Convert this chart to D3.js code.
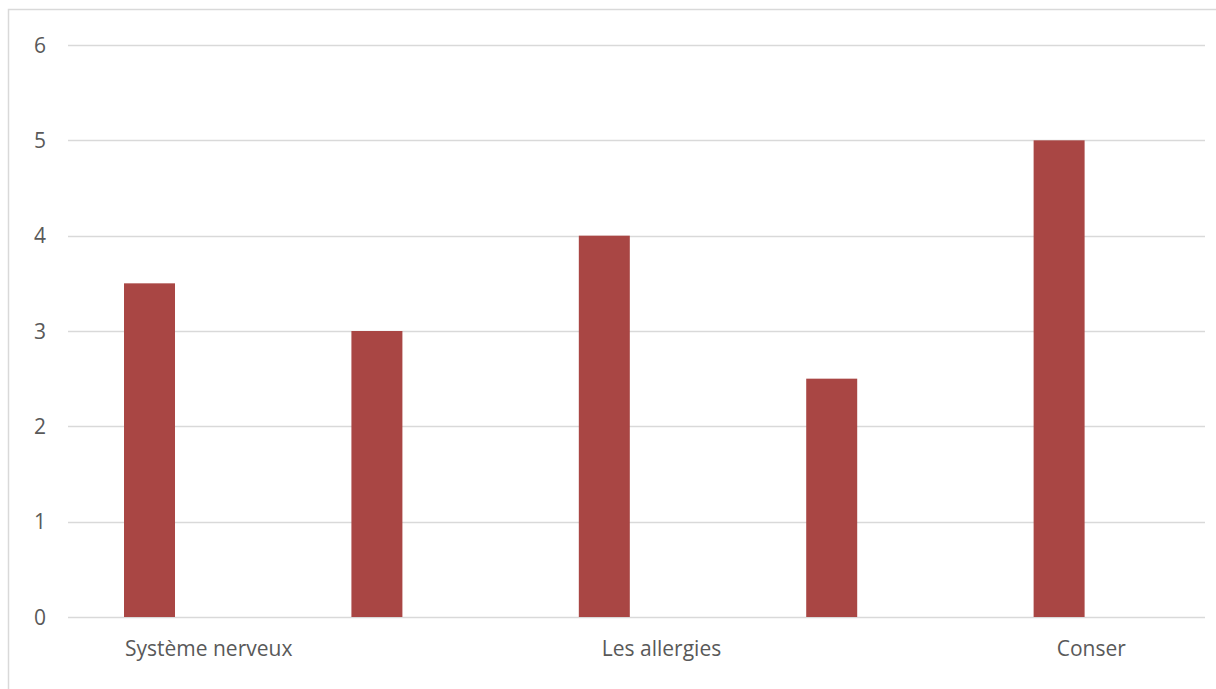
<!DOCTYPE html>
<html>
<head>
<meta charset="utf-8">
<script src="https://cdn.jsdelivr.net/npm/d3@7"></script>
<style>
  body { margin: 0; background: #fff; }
  text { font-family: "Open Sans", sans-serif; fill: #595959; }
</style>
</head>
<body>
<div id="chart"></div>
<script>
// chart data
var categories = ["Système nerveux", "", "Les allergies", "", "Conser"];
var values = [3.5, 3, 4, 2.5, 5];
var yTicks = [0, 1, 2, 3, 4, 5, 6];
// a second (empty) series takes the right half of each category slot
var seriesNames = ["Série 1", "Série 2"];

var svgWidth = 1216;
var svgHeight = 689;

var margin = { top: 45, right: 11, bottom: 72, left: 68 };
var width = svgWidth - margin.left - margin.right;
var height = svgHeight - margin.top - margin.bottom;

var svg = d3.select("#chart").append("svg")
    .attr("width", svgWidth)
    .attr("height", svgHeight);

// outer chart frame (only left and top edges fall inside the picture)
svg.append("rect")
    .attr("x", 8.5)
    .attr("y", 9.5)
    .attr("width", svgWidth)
    .attr("height", svgHeight)
    .attr("fill", "none")
    .attr("stroke", "#d9d9d9")
    .attr("stroke-width", 1.5);

var chartGroup = svg.append("g")
    .attr("transform", `translate(${margin.left}, ${margin.top})`);

// Scales
var xScale = d3.scaleBand()
    .domain(d3.range(categories.length))
    .range([0, width])
    .padding(0);

var xInner = d3.scaleBand()
    .domain(seriesNames)
    .range([0, xScale.bandwidth()])
    .paddingInner(0.208)
    .paddingOuter(0.87);

var yScale = d3.scaleLinear()
    .domain([0, 6])
    .range([height, 0]);

// gridlines
chartGroup.append("g")
    .selectAll("line")
    .data(yTicks)
    .enter()
    .append("line")
    .attr("x1", 0)
    .attr("x2", width)
    .attr("y1", d => Math.round(yScale(d)) + 0.5)
    .attr("y2", d => Math.round(yScale(d)) + 0.5)
    .attr("stroke", "#d9d9d9")
    .attr("stroke-width", 1.5);

// y tick labels
chartGroup.append("g")
    .selectAll("text")
    .data(yTicks)
    .enter()
    .append("text")
    .attr("x", -22)
    .attr("y", d => yScale(d))
    .attr("dy", "0.36em")
    .attr("text-anchor", "end")
    .style("font-size", "21px")
    .text(d => d);

// bars
chartGroup.append("g")
    .selectAll("rect")
    .data(values)
    .enter()
    .append("rect")
    .attr("x", (d, i) => xScale(i) + xInner(seriesNames[0]))
    .attr("width", xInner.bandwidth())
    .attr("y", d => yScale(d))
    .attr("height", d => yScale(0) - yScale(d))
    .attr("fill", "#a94644");

// category labels (Excel shifts the wrapped labels a bit to the right)
var labelShift = [27, 0, 25, 0, 0];
chartGroup.append("g")
    .selectAll("text")
    .data(categories)
    .enter()
    .append("text")
    .attr("x", (d, i) => xScale(i) + xScale.bandwidth() / 2 + labelShift[i])
    .attr("y", height + 39)
    .attr("text-anchor", "middle")
    .style("font-size", "21px")
    .text(d => d);
</script>
</body>
</html>
